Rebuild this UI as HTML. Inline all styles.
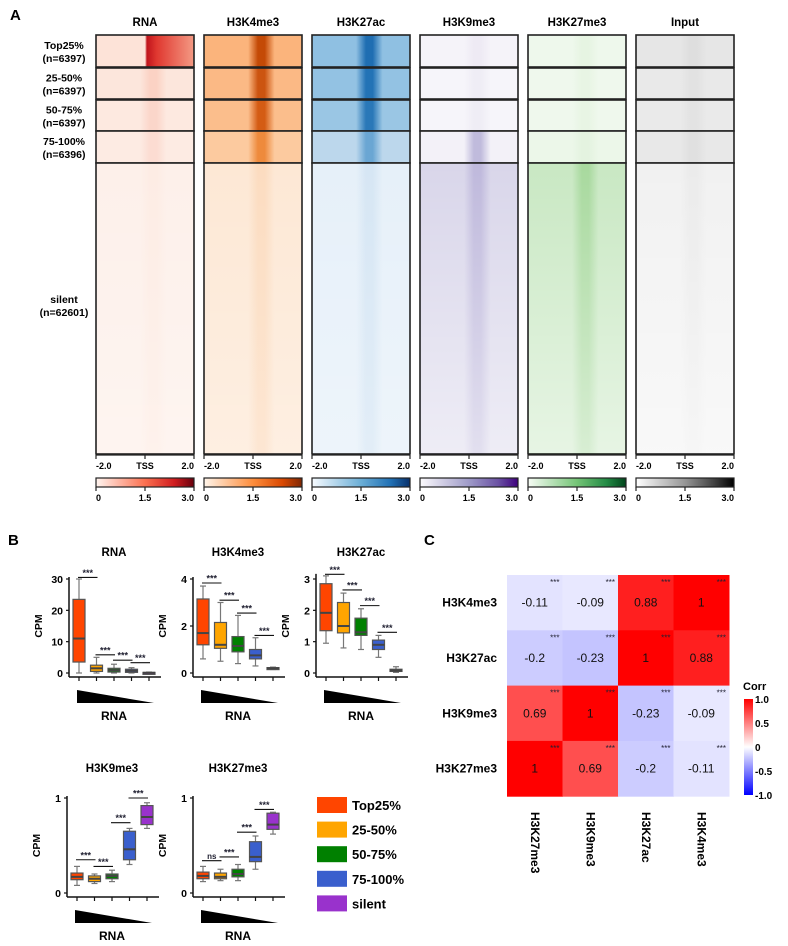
<!DOCTYPE html>
<html><head><meta charset="utf-8"><style>
html,body{margin:0;padding:0;background:#fff;}
svg{display:block;font-family:"Liberation Sans",Arial,sans-serif;}
</style></head><body>
<svg id="fig" width="788" height="946" viewBox="0 0 788 946" xmlns="http://www.w3.org/2000/svg">
<defs>
<linearGradient id="cb0"><stop offset="0" stop-color="#fff5f0"/><stop offset=".5" stop-color="#fb7050"/><stop offset=".8" stop-color="#d01c1f"/><stop offset="1" stop-color="#67000d"/></linearGradient>
<linearGradient id="cb1"><stop offset="0" stop-color="#fff5eb"/><stop offset=".5" stop-color="#fd8d3c"/><stop offset=".8" stop-color="#d94801"/><stop offset="1" stop-color="#7f2704"/></linearGradient>
<linearGradient id="cb2"><stop offset="0" stop-color="#f7fbff"/><stop offset=".5" stop-color="#6baed6"/><stop offset=".8" stop-color="#2171b5"/><stop offset="1" stop-color="#08306b"/></linearGradient>
<linearGradient id="cb3"><stop offset="0" stop-color="#fcfbfd"/><stop offset=".5" stop-color="#9e9ac8"/><stop offset=".8" stop-color="#6a51a3"/><stop offset="1" stop-color="#3f007d"/></linearGradient>
<linearGradient id="cb4"><stop offset="0" stop-color="#f7fcf5"/><stop offset=".5" stop-color="#74c476"/><stop offset=".8" stop-color="#238b45"/><stop offset="1" stop-color="#00441b"/></linearGradient>
<linearGradient id="cb5"><stop offset="0" stop-color="#ffffff"/><stop offset=".5" stop-color="#969696"/><stop offset=".8" stop-color="#404040"/><stop offset="1" stop-color="#000000"/></linearGradient>
<linearGradient id="corrcb" x1="0" y1="1" x2="0" y2="0"><stop offset="0" stop-color="#0000ff"/><stop offset=".5" stop-color="#ffffff"/><stop offset="1" stop-color="#ff0000"/></linearGradient>
</defs>
<g id="panelA"></g>
<g id="panelB"></g>
<g id="panelC"></g>
</svg>
<script>
// ---------- Panel A data ----------
const tracks = ["RNA","H3K4me3","H3K27ac","H3K9me3","H3K27me3","Input"];
const groupLabels = [["Top25%","(n=6397)"],["25-50%","(n=6397)"],["50-75%","(n=6397)"],["75-100%","(n=6396)"],["silent","(n=62601)"]];
// colour per track for [background, peak] per group
const trackBg = [
 ["#fde3d8","#fce6dc","#fde9e0","#fdebe3","#fdf0ea"],
 ["#fbb47c","#fbb985","#fbbe8c","#fcca9f","#fde8d5"],
 ["#8fc0e2","#93c2e3","#9ac6e4","#bcd7ec","#e6f0f9"],
 ["#f5f3f9","#f6f5fa","#f6f5fa","#f3f1f8","#d9d6ea"],
 ["#eef8ec","#eff8ed","#eff8ed","#ecf7e9","#c9e8c3"],
 ["#e6e6e6","#e9e9e9","#eaeaea","#e8e8e8","#f1f1f1"]];
const trackPeak = [
 ["#c0141c","#fbd2c4","#fbd6ca","#fcdcd2","#fdece4"],
 ["#c44a06","#cc5410","#d45c14","#ee8a3c","#fcdcc0"],
 ["#1f6eb2","#2373b6","#2a78b8","#6aa6d3","#d6e6f4"],
 ["#eeeaf4","#efedf5","#efedf5","#c0bbdc","#bfb9dc"],
 ["#e6f4e2","#e8f5e4","#e8f5e4","#e4f3e0","#a8d99e"],
 ["#dedede","#e2e2e2","#e3e3e3","#e0e0e0","#ebebeb"]];
const colX = [96,204,312,420,528,636];
const rowY = [[35,67],[68,99],[100,131],[131,163],[163,454]];

const NS="http://www.w3.org/2000/svg";
function mk(tag,attrs,parent){const e=document.createElementNS(NS,tag);for(const k in attrs)e.setAttribute(k,attrs[k]);if(parent)parent.appendChild(e);return e;}
function txt(s,attrs,parent){const e=mk("text",attrs,parent);e.textContent=s;return e;}
const defs=document.querySelector("defs");
const A=document.getElementById("panelA");
const lblA=txt("A",{x:10,y:20,"font-size":15,"font-weight":"bold"},A);


const W=98;
tracks.forEach((t,ti)=>{
  const x=colX[ti];
  const tt=txt(t,{x:x+W/2,y:26,"font-size":11.5,"font-weight":"bold","text-anchor":"middle"},A);
  
  
  rowY.forEach((r,ri)=>{
    const gid="g"+ti+"_"+ri;
    const g=mk("linearGradient",{id:gid},defs);
    const bg=trackBg[ti][ri], pk=trackPeak[ti][ri];
    let stops;
    if(ti===0&&ri===0) stops=[[0,bg],[.5,bg],[.52,pk],[.62,"#e03830"],[1,"#f49a84"]];
    else stops=[[0,bg],[.45,bg],[.55,pk],[.62,pk],[.72,bg],[1,bg]];
    stops.forEach(s=>mk("stop",{offset:s[0],"stop-color":s[1]},g));
    const rc=mk("rect",{x:x,y:r[0],width:W,height:r[1]-r[0],fill:"url(#"+gid+")",stroke:"#222","stroke-width":1.6},A);
    
    
  });
  // fade overlay for silent block
  const fid="fade"+ti;
  const fg=mk("linearGradient",{id:fid,x1:0,y1:0,x2:0,y2:1},defs);
  mk("stop",{offset:0,"stop-color":"#fff","stop-opacity":0},fg);
  mk("stop",{offset:1,"stop-color":"#fff","stop-opacity":ti>=3?0.55:0.3},fg);
  mk("rect",{x:x+1,y:164,width:W-2,height:289,fill:"url(#"+fid+")"},A);
  // axis
  mk("line",{x1:x,y1:455,x2:x+W,y2:455,stroke:"#222","stroke-width":1.2},A);
  [0,0.5,1].forEach((f,k)=>{
    mk("line",{x1:x+f*W,y1:455,x2:x+f*W,y2:459,stroke:"#222","stroke-width":1.2},A);
    const lt=txt(["-2.0","TSS","2.0"][k],{x:x+f*W,y:469,"font-size":9,"font-weight":"bold","text-anchor":k===0?"start":(k===2?"end":"middle")},A);
    
    
  });
  const cb=mk("rect",{x:x,y:478,width:W,height:9,fill:"url(#cb"+ti+")",stroke:"#222","stroke-width":1.2},A);
  
  
  [0,0.5,1].forEach((f,k)=>{
    mk("line",{x1:x+f*W,y1:487,x2:x+f*W,y2:491,stroke:"#222","stroke-width":1.2},A);
    txt(["0","1.5","3.0"][k],{x:x+f*W,y:501,"font-size":9,"font-weight":"bold","text-anchor":k===0?"start":(k===2?"end":"middle")},A);
  });
});
groupLabels.forEach((gl,i)=>{
  const r=rowY[i], cy=i===4?305:(r[0]+r[1])/2;
  const a=txt(gl[0],{x:64,y:cy-2,"font-size":10.5,"font-weight":"bold","text-anchor":"middle"},A);
  
  
  txt(gl[1],{x:64,y:cy+11,"font-size":10.5,"font-weight":"bold","text-anchor":"middle"},A);
});

// ---------- Panel B data ----------
const groups=["Top25%","25-50%","50-75%","75-100%","silent"];
const boxColors=["#ff4500","#ffa500","#008000","#3a5fcd","#9932cc"];
const rnaLo=[0,0,0,0,0], rnaQ1=[3.5,0.5,0.3,0.2,0], rnaMed=[11,1.5,0.9,0.7,0.05], rnaQ3=[23.5,2.5,1.5,1.2,0.2], rnaHi=[30,5,2.8,1.7,0.3];
const k4Lo=[0.6,0.5,0.4,0.3,0.15], k4Q1=[1.2,1.05,0.9,0.6,0.17], k4Med=[1.7,1.2,1.15,0.75,0.2], k4Q3=[3.15,2.15,1.55,1.0,0.23], k4Hi=[3.7,3.0,2.45,1.5,0.25];
const acLo=[0.95,0.8,0.75,0.5,0.02], acQ1=[1.35,1.28,1.2,0.75,0.05], acMed=[1.92,1.5,1.3,0.9,0.08], acQ3=[2.85,2.25,1.75,1.05,0.12], acHi=[3.1,2.55,2.05,1.2,0.2];
const k9Lo=[0.08,0.1,0.12,0.3,0.68], k9Q1=[0.14,0.12,0.15,0.35,0.72], k9Med=[0.17,0.15,0.18,0.46,0.8], k9Q3=[0.21,0.18,0.2,0.65,0.92], k9Hi=[0.28,0.2,0.24,0.68,0.95];
const k27Lo=[0.12,0.13,0.13,0.25,0.62], k27Q1=[0.15,0.15,0.17,0.33,0.67], k27Med=[0.18,0.17,0.2,0.38,0.72], k27Q3=[0.22,0.21,0.25,0.54,0.84], k27Hi=[0.28,0.25,0.3,0.6,0.85];
const rnaSigY=[30.5,5.8,4.1,3.3], k4SigY=[3.83,3.1,2.55,1.6], acSigY=[3.15,2.65,2.15,1.3], k9SigY=[0.35,0.28,0.74,1.0], k27SigY=[0.34,0.38,0.64,0.88];
const sigLabels=["***","***","***","***"], k27SigLabels=["ns","***","***","***"];
const rnaTicks=[0,10,20,30], k4Ticks=[0,2,4], acTicks=[0,1,2,3], k9Ticks=[0,1], k27Ticks=[0,1];

const B=document.getElementById("panelB");
const lblB=txt("B",{x:8,y:545,"font-size":15,"font-weight":"bold"},B);



function boxplot(name,ax,y0,ytop,vmax,ticks,lo,q1,med,q3,hi,sigY,sigL,titleY){
  const g=mk("g",{},B);
  
  
  const ys=v=>y0-(v/vmax)*(y0-ytop);
  const xs=i=>ax+10+i*17.5;
  const t=txt(name,{x:ax+45,y:titleY,"font-size":11.5,"font-weight":"bold","text-anchor":"middle"},g);
  
  
  const top=Math.min(ytop, ys(Math.max(...hi)))-2;
  mk("line",{x1:ax,y1:top,x2:ax,y2:y0+4,stroke:"#111","stroke-width":1.5},g);
  mk("line",{x1:ax,y1:y0+4,x2:ax+92,y2:y0+4,stroke:"#111","stroke-width":1.5},g);
  ticks.forEach(v=>{
    mk("line",{x1:ax-3,y1:ys(v),x2:ax,y2:ys(v),stroke:"#111","stroke-width":1.2},g);
    txt(String(v),{x:ax-6,y:ys(v)+4,"font-size":10.5,"font-weight":"bold","text-anchor":"end"},g);
  });
  const cpm=txt("CPM",{x:0,y:0,"font-size":10.5,"font-weight":"bold","text-anchor":"middle",transform:`translate(${ax-27},${(y0+ytop)/2}) rotate(-90)`},g);
  
  
  groups.forEach((gname,i)=>{
    const x=xs(i);
    mk("line",{x1:x,y1:y0+4,x2:x,y2:y0+8,stroke:"#111","stroke-width":1.2},g);
    mk("line",{x1:x,y1:ys(hi[i]),x2:x,y2:ys(lo[i]),stroke:"#777","stroke-width":1.2},g);
    mk("line",{x1:x-3,y1:ys(hi[i]),x2:x+3,y2:ys(hi[i]),stroke:"#777","stroke-width":1.2},g);
    mk("line",{x1:x-3,y1:ys(lo[i]),x2:x+3,y2:ys(lo[i]),stroke:"#777","stroke-width":1.2},g);
    const h=Math.max(2,ys(q1[i])-ys(q3[i]));
    const bx=mk("rect",{x:x-6,y:ys(q3[i]),width:12,height:h,fill:boxColors[i],stroke:"#555","stroke-width":1.2},g);
    
    
    mk("line",{x1:x-6,y1:ys(med[i]),x2:x+6,y2:ys(med[i]),stroke:"#444","stroke-width":2},g);
  });
  sigY.forEach((v,i)=>{
    const y=ys(v);
    mk("line",{x1:xs(i)-1,y1:y,x2:xs(i+1)+1,y2:y,stroke:"#111","stroke-width":1.1},g);
    txt(sigL[i],{x:(xs(i)+xs(i+1))/2,y:y-1.5,"font-size":sigL[i]==="ns"?8:9,"font-weight":"bold","text-anchor":"middle",fill:"#223"},g);
  });
  const triY=y0+17;
  const tri=mk("polygon",{points:`${xs(0)-2},${triY} ${xs(0)-2},${triY+13} ${xs(4)+5},${triY+13}`,fill:"#000"},g);
  
  
  const xl=txt("RNA",{x:(xs(0)+xs(4))/2,y:triY+30,"font-size":12,"font-weight":"bold","text-anchor":"middle"},g);
  
  
}
boxplot("RNA",69,673,579,30,rnaTicks,rnaLo,rnaQ1,rnaMed,rnaQ3,rnaHi,rnaSigY,sigLabels,556);
boxplot("H3K4me3",193,673,579,4,k4Ticks,k4Lo,k4Q1,k4Med,k4Q3,k4Hi,k4SigY,sigLabels,556);
boxplot("H3K27ac",316,673,579,3,acTicks,acLo,acQ1,acMed,acQ3,acHi,acSigY,sigLabels,556);
boxplot("H3K9me3",67,893,798,1,k9Ticks,k9Lo,k9Q1,k9Med,k9Q3,k9Hi,k9SigY,sigLabels,772);
boxplot("H3K27me3",193,893,798,1,k27Ticks,k27Lo,k27Q1,k27Med,k27Q3,k27Hi,k27SigY,k27SigLabels,772);
// legend
groups.forEach((gname,i)=>{
  const y=797+i*24.6;
  const r=mk("rect",{x:317,y:y,width:30,height:16,fill:boxColors[i]},B);
  
  
  const t=txt(gname,{x:352,y:y+13,"font-size":13,"font-weight":"bold"},B);
  
  
});

// ---------- Panel C data ----------
const corrRows=["H3K4me3","H3K27ac","H3K9me3","H3K27me3"];
const corrCols=["H3K27me3","H3K9me3","H3K27ac","H3K4me3"];
const corrVals=[[-0.11,-0.09,0.88,1],[-0.2,-0.23,1,0.88],[0.69,1,-0.23,-0.09],[1,0.69,-0.2,-0.11]];
const corrTicks=[1.0,0.5,0,-0.5,-1.0];
const C=document.getElementById("panelC");
const lblC=txt("C",{x:424,y:545,"font-size":15,"font-weight":"bold"},C);


function corrColor(v){
  const a=Math.min(1,Math.abs(v));
  const m=Math.round(255*(1-a));
  return v>=0?`rgb(255,${m},${m})`:`rgb(${m},${m},255)`;
}
const cx0=507, cy0=575, cw=55.5, ch=55.3;
corrRows.forEach((rn,ri)=>{
  const t=txt(rn,{x:497,y:cy0+ri*ch+ch/2+4,"font-size":12,"font-weight":"bold","text-anchor":"end"},C);
  
  
  corrCols.forEach((cn,ci)=>{
    const v=corrVals[ri][ci];
    const x=cx0+ci*cw, y=cy0+ri*ch;
    const r=mk("rect",{x:x,y:y,width:cw+0.5,height:ch+0.5,fill:corrColor(v)},C);
    
    
    txt(String(v),{x:x+cw/2,y:y+ch/2+4,"font-size":12,"text-anchor":"middle",fill:"#111"},C);
    txt("***",{x:x+cw-3,y:y+10,"font-size":8,"text-anchor":"end",fill:"#223"},C);
  });
});
corrCols.forEach((cn,ci)=>{
  const x=cx0+ci*cw+cw/2;
  const t=txt(cn,{x:0,y:0,"font-size":12,"font-weight":"bold",transform:`translate(${x-4},812) rotate(90)`},C);
  
  
});
const ctit=txt("Corr",{x:743,y:690,"font-size":11,"font-weight":"bold"},C);


const cbar=mk("rect",{x:744,y:699,width:9,height:96,fill:"url(#corrcb)"},C);


corrTicks.forEach(v=>{
  const y=699+(1-v)/2*96;
  txt(String(v===0?"0":v.toFixed(1)),{x:755,y:y+4,"font-size":10,"font-weight":"bold"},C);
});
</script>
</body></html>
